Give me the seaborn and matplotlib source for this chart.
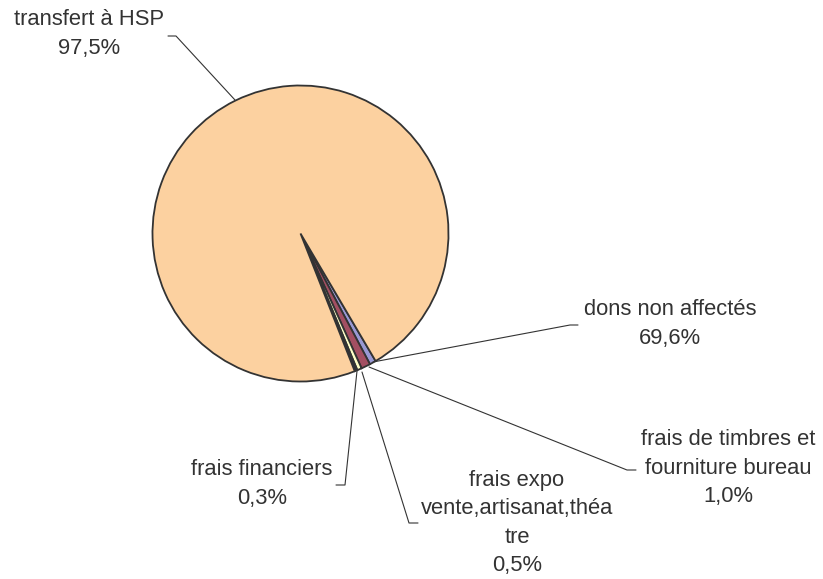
import matplotlib
matplotlib.use("Agg")
import matplotlib.pyplot as plt
import seaborn as sns

# Data
categories = ["dons non affectés", "frais de timbres et\nfourniture bureau",
              "frais expo\nvente,artisanat,théa\ntre", "frais financiers", "transfert à HSP"]
values = [0.7, 1.0, 0.5, 0.3, 97.5]
pct_labels = ["69,6%", "1,0%", "0,5%", "0,3%", "97,5%"]
colors = ["#9999D4", "#A34F62", "#FFFFC8", "#30303E", "#FCD1A0"]

sns.set_theme(style="white")
plt.rcParams['font.family'] = ['Liberation Sans', 'DejaVu Sans']

W, H = 823, 579
fig = plt.figure(figsize=(W / 100, H / 100), dpi=100)
ax = fig.add_axes([0, 0, 1, 1])
ax.set_xlim(0, W)
ax.set_ylim(0, H)
ax.set_aspect("equal")
ax.axis("off")

cx, cy, r = 300.5, H - 233.5, 148
ax.pie(values, colors=colors, startangle=-59.5, counterclock=False,
       center=(cx, cy), radius=r, frame=True,
       wedgeprops=dict(edgecolor="#333333", linewidth=1.3))
ax.set_xlim(0, W)
ax.set_ylim(0, H)
ax.axis("off")

def y(v):
    return H - v

line_kw = dict(color="#333333", lw=0.8)
txt_kw = dict(color="#333333", fontsize=15.8, ha="center", va="center", linespacing=1.46)

# leader lines (pixel coords of the reference)
leaders = [
    [(373, 362), (570, 325), (578, 325)],          # dons
    [(369, 367), (627, 470), (636, 470)],          # timbres
    [(362, 372), (409, 523), (418, 523)],          # expo
    [(357, 371), (345, 485), (336, 485)],          # financiers
    [(235, 100), (176, 36), (168, 36)],            # transfert
]
for pts in leaders:
    xs = [p[0] for p in pts]
    ys = [y(p[1]) for p in pts]
    ax.plot(xs, ys, **line_kw)

label_pos = [(670, 324), (728, 468), (517, 523), (262, 484), (89, 34)]
for cat, pct, (lx, ly) in zip(categories, pct_labels, label_pos):
    ax.text(lx, y(ly), f"{cat}\n{pct}", **txt_kw)

fig.savefig("out.png", dpi=100)
